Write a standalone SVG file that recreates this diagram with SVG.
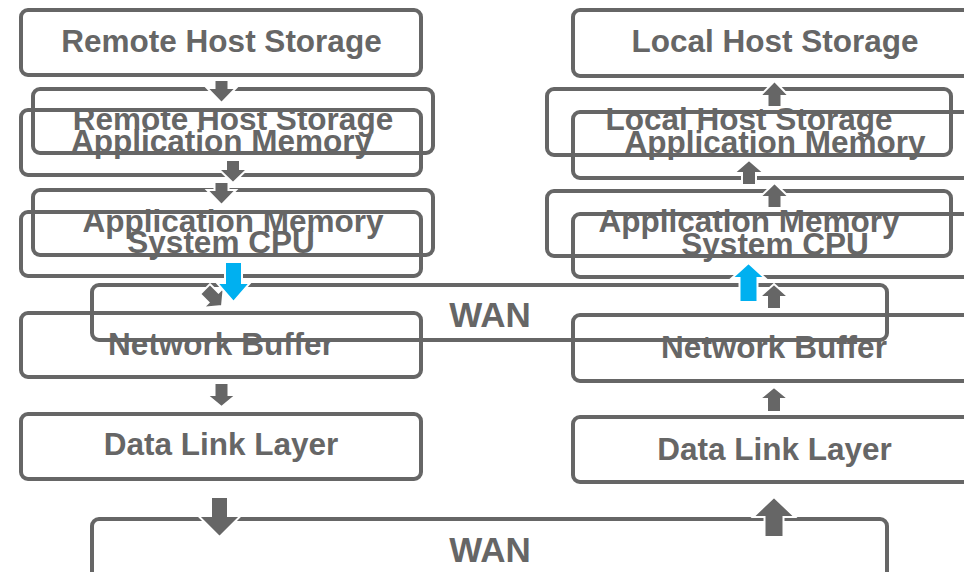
<svg xmlns="http://www.w3.org/2000/svg" width="964" height="572" viewBox="0 0 964 572">
<style>
.box{fill:none;stroke:#666666;stroke-width:4}
.t{font-family:"Liberation Sans",Arial,sans-serif;font-weight:bold;font-size:31.5px;fill:#666666;text-anchor:middle}
.w{font-size:35px}
.ar{fill:#666666;stroke:#ffffff;stroke-width:2;stroke-linejoin:miter}
.blue{fill:#00b0f0;stroke:#ffffff;stroke-width:2}
</style>
<rect width="964" height="572" fill="#ffffff"/>
<g id="nodes-left">
<g id="remote-storage"><rect class="box" x="21" y="10" width="400" height="65" rx="7"/><text class="t" x="221.5" y="52">Remote Host Storage</text></g>
<g id="remote-storage-2"><rect class="box" x="33" y="89" width="400" height="64" rx="7"/><text class="t" x="233" y="130">Remote Host Storage</text></g>
<g id="remote-appmem"><rect class="box" x="21" y="110" width="400" height="65" rx="7"/><text class="t" x="221.5" y="152">Application Memory</text></g>
<g id="remote-appmem-2"><rect class="box" x="33" y="190" width="400" height="65" rx="7"/><text class="t" x="233" y="232">Application Memory</text></g>
<g id="remote-cpu"><rect class="box" x="21" y="212" width="400" height="64" rx="7"/><text class="t" x="221" y="253">System CPU</text></g>
<g id="remote-netbuf"><rect class="box" x="21" y="313" width="400" height="64" rx="7"/><text class="t" x="221" y="355">Network Buffer</text></g>
<g id="remote-datalink"><rect class="box" x="21" y="414" width="400" height="65" rx="7"/><text class="t" x="221" y="455">Data Link Layer</text></g>
</g>
<g id="nodes-right">
<g id="local-storage"><rect class="box" x="573" y="10" width="404" height="66" rx="7"/><text class="t" x="775" y="52">Local Host Storage</text></g>
<g id="local-storage-2"><rect class="box" x="547" y="89" width="404" height="66" rx="7"/><text class="t" x="749" y="130">Local Host Storage</text></g>
<g id="local-appmem"><rect class="box" x="573" y="112" width="404" height="66" rx="7"/><text class="t" x="775" y="153">Application Memory</text></g>
<g id="local-appmem-2"><rect class="box" x="547" y="191" width="404" height="65" rx="7"/><text class="t" x="749" y="232">Application Memory</text></g>
<g id="local-cpu"><rect class="box" x="573" y="214" width="404" height="63" rx="7"/><text class="t" x="775" y="255">System CPU</text></g>
<g id="local-netbuf"><rect class="box" x="573" y="315" width="404" height="66" rx="7"/><text class="t" x="774" y="358">Network Buffer</text></g>
<g id="local-datalink"><rect class="box" x="573" y="417" width="404" height="65" rx="7"/><text class="t" x="774.5" y="460">Data Link Layer</text></g>
</g>
<g id="wan-1"><rect class="box" x="92" y="285" width="795" height="55" rx="7"/><text class="t w" x="490" y="327">WAN</text></g>
<g id="wan-2"><rect class="box" x="92" y="519" width="795" height="80" rx="7"/><text class="t w" x="490" y="562">WAN</text></g>
<g id="connectors">
<polygon class="ar" points="214.5,80 228.5,80 228.5,88 236,88 221.5,103 207,88 214.5,88"/>
<polygon class="ar" points="226,160 240,160 240,169 247.5,169 233,183 218.5,169 226,169"/>
<polygon class="ar" points="214.5,182 228.5,182 228.5,190 236,190 221.5,205 207,190 214.5,190"/>
<polygon class="ar" points="214.5,383 228.5,383 228.5,395 236,395 221.5,407 207,395 214.5,395"/>
<polygon class="ar" points="211,497 228,497 228,516 240.5,516 219.5,537 198.5,516 211,516"/>
<polygon class="ar" transform="rotate(-45 222 306)" points="215,282 229,282 229,294 236.5,294 222,306 207.5,294 215,294"/>
<polygon class="blue" points="225,262 242,262 242,283 250,283 233.5,302 217,283 225,283"/>
<polygon class="ar" points="767.5,107 781.5,107 781.5,96 789,96 774.5,81 760,96 767.5,96"/>
<polygon class="ar" points="742,185 756,185 756,173 764,173 749,160 734,173 742,173"/>
<polygon class="ar" points="767.5,208 781.5,208 781.5,197 789,197 774.5,183 760,197 767.5,197"/>
<polygon class="ar" points="767,309 781,309 781,297 788.5,297 774,284 759.5,297 767,297"/>
<polygon class="ar" points="767,412 781,412 781,399 788.5,399 774,387 759.5,399 767,399"/>
<polygon class="ar" points="764.5,537 783.5,537 783.5,517 795,517 774,497 753,517 764.5,517"/>
<polygon class="blue" points="739.5,302 757.5,302 757.5,278 765,278 748.5,263 732,278 739.5,278"/>
</g>
</svg>
